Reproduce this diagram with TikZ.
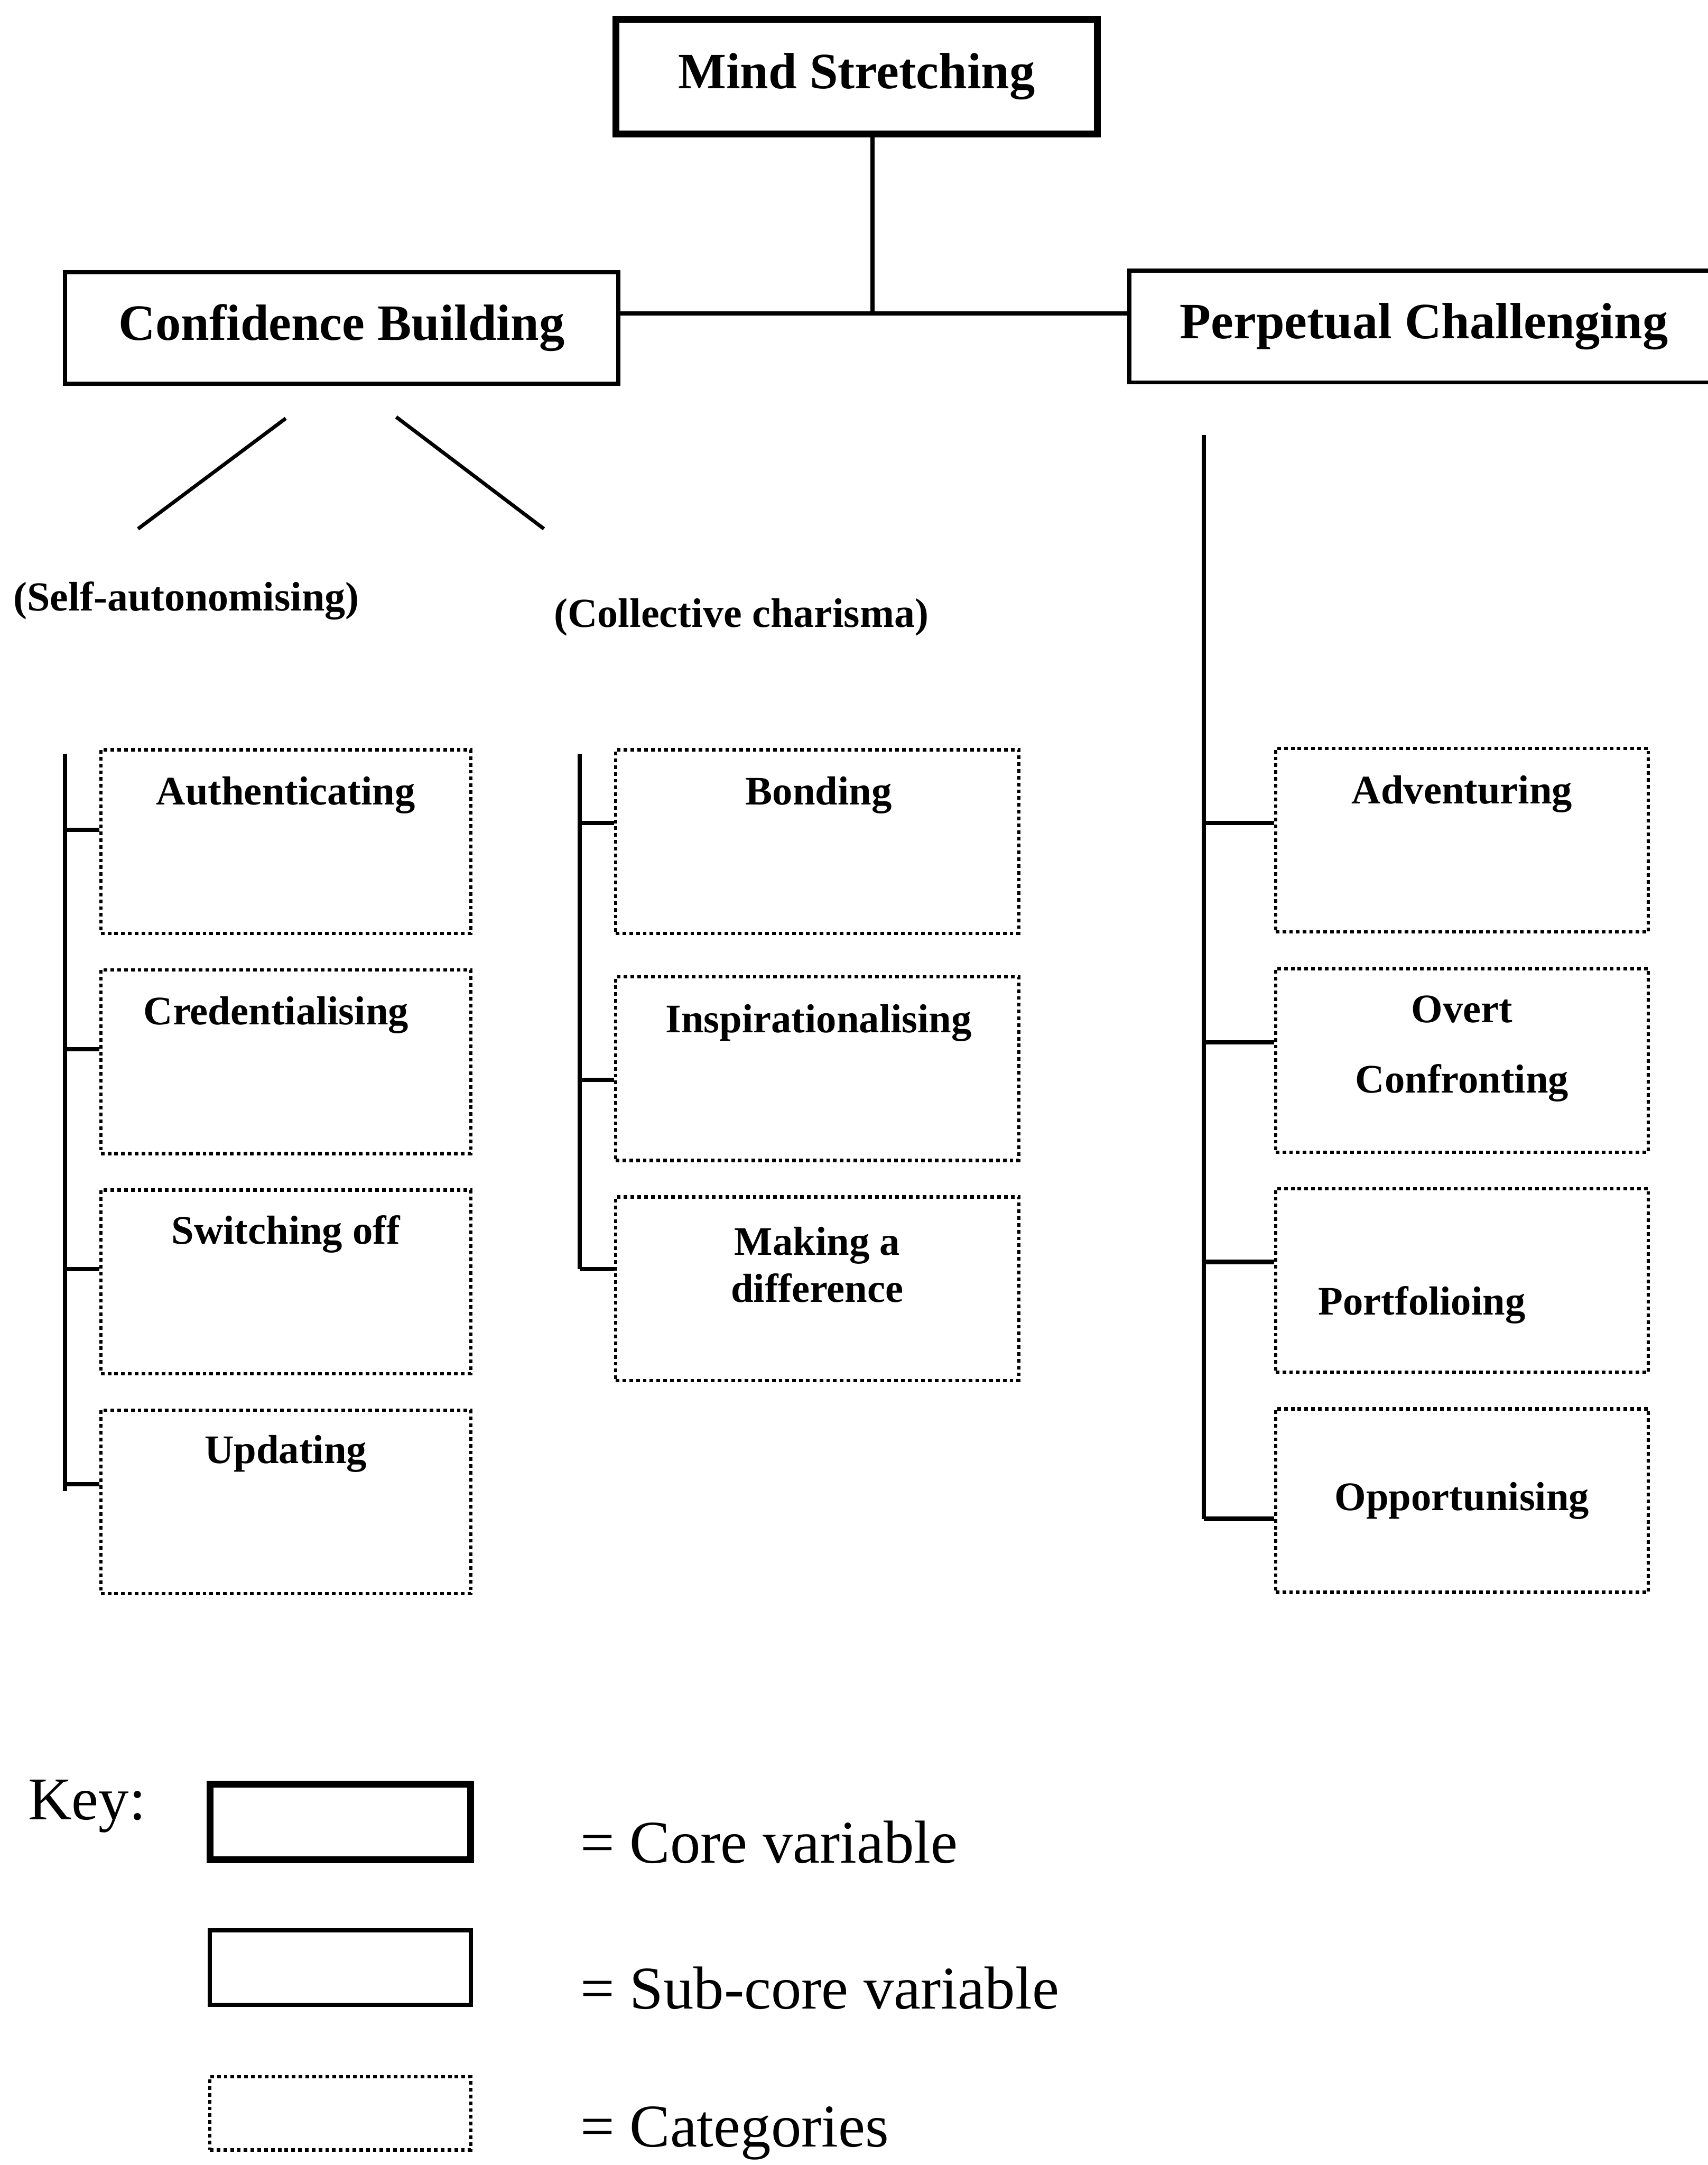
\documentclass[tikz,border=0pt]{standalone}
\usepackage{fontspec}
\setmainfont{Liberation Serif}
\usetikzlibrary{positioning}

\begin{document}
\begin{tikzpicture}[
	x=0.02cm,
	y=-0.02cm,
	node distance=0.48cm,
	core/.style={
		rectangle,
		draw,
		line width=2.8pt,
		minimum width=6.98cm,
		minimum height=1.66cm,
		font=\bfseries\fontsize{21}{25}\selectfont
	},
	subcore/.style={
		rectangle,
		draw,
		line width=1.7pt,
		minimum width=8.02cm,
		minimum height=1.62cm,
		font=\bfseries\fontsize{21}{25}\selectfont
	},
	category/.style={
		rectangle,
		draw,
		line width=1.4pt,
		dash pattern=on 1.5pt off 1.3pt,
		minimum width=5.36cm,
		minimum height=2.66cm
	},
	catlabel/.style={
		align=center,
		font=\bfseries\fontsize{16.7}{19.4}\selectfont
	},
	branch/.style={
		font=\bfseries\fontsize{17}{20}\selectfont
	},
	keytext/.style={
		anchor=west,
		inner xsep=0pt,
		font=\fontsize{25}{30}\selectfont
	},
	link/.style={
		line width=1.8pt
	}
	]
	
	\useasboundingbox (0,0) rectangle (1237,1568);
	
	\node[core] (mind) at (620.5,55.5) {Mind Stretching};
	\node[subcore] (conf) at (247.5,237.5) {Confidence Building};
	\node[subcore, minimum width=8.54cm] (perp) at (1031.5,236.5) {Perpetual Challenging};
	
	\coordinate (junction) at (632,227);
	\draw[link] (mind.south -| junction) -- (junction);
	\draw[link] (conf.east |- junction) -- (perp.west |- junction);
	
	% the two branches of confidence building
	\coordinate (selftop) at (207,303);
	\coordinate (selfend) at (100,383);
	\coordinate (colltop) at (287,302);
	\coordinate (collend) at (394,383);
	\draw[line width=1.5pt] (selftop) -- (selfend);
	\draw[line width=1.5pt] (colltop) -- (collend);
	\node[branch] (selfaut) at (135,435) {(Self-autonomising)};
	\node[branch] (collect) at (537,447) {(Collective charisma)};
	
	% categories
	\node[category] (auth) at (207,609.5) {};
	\node[category] (cred) [below=of auth] {};
	\node[category] (swit) [below=of cred] {};
	\node[category] (upd) [below=of swit] {};
	
	\node[category, minimum width=5.84cm] (bond) at (592,609.5) {};
	\node[category, minimum width=5.84cm] (insp) [below=0.58cm of bond] {};
	\node[category, minimum width=5.84cm] (diff) [below=of insp] {};
	
	\node[category, minimum width=5.4cm] (adv) at (1059,608.5) {};
	\node[category, minimum width=5.4cm] (overt) [below=of adv] {};
	\node[category, minimum width=5.4cm] (port) [below=of overt] {};
	\node[category, minimum width=5.4cm] (opp) [below=of port] {};
	
	\node[catlabel] (authtxt) at (207,576) {Authenticating};
	\node[catlabel] (credtxt) at (200,735) {Credentialising};
	\node[catlabel] (swittxt) at (207,894) {Switching off};
	\node[catlabel] (updtxt) at (207,1053) {Updating};
	\node[catlabel] (bondtxt) at (593,576) {Bonding};
	\node[catlabel] (insptxt) at (593,741) {Inspirationalising};
	\node[catlabel] (difftxt) at (592,916) {Making a\\difference};
	\node[catlabel] (advtxt) at (1059,575) {Adventuring};
	\node[catlabel] (overttxt) at (1059,759.5) {Overt\\[9.6pt]Confronting};
	\node[catlabel] (porttxt) at (1030,945) {Portfolioing};
	\node[catlabel] (opptxt) at (1059,1087) {Opportunising};
	
	% spines
	\coordinate (ltop) at (47,546);
	\coordinate (lbot) at (47,1080);
	\coordinate (mtop) at (420,546);
	\coordinate (mbot) at (420,919);
	\coordinate (rtop) at (872,315);
	\coordinate (rbot) at (872,1100);
	\draw[link] (ltop) -- (lbot);
	\draw[link] (mtop) -- (mbot);
	\draw[link] (rtop) -- (rbot);
	\foreach \b/\y in {auth/601, cred/760, swit/919, upd/1075}{
		\coordinate (t\b) at (47,\y);
		\draw[link] (t\b) -- (\b.west |- t\b);
	}
	\foreach \b/\y in {bond/596, insp/782, diff/919}{
		\coordinate (t\b) at (420,\y);
		\draw[link] (t\b) -- (\b.west |- t\b);
	}
	\foreach \b/\y in {adv/596, overt/755, port/914, opp/1100}{
		\coordinate (t\b) at (872,\y);
		\draw[link] (t\b) -- (\b.west |- t\b);
	}
	
	% key
	\node[font=\fontsize{25}{30}\selectfont] (key) at (63,1308) {Key:};
	\node[core, minimum width=3.78cm, minimum height=1.1cm] (keycore) at (246.5,1319.5) {};
	\node[subcore, minimum width=3.78cm, minimum height=1.08cm] (keysub) at (246.5,1425) {};
	\node[category, minimum width=3.78cm, minimum height=1.06cm] (keycat) at (246.5,1530.5) {};
	\node[keytext] (keycoretxt) at (420,1334) {= Core variable};
	\node[keytext] (keysubtxt) at (420,1440) {= Sub-core variable};
	\node[keytext] (keycattxt) at (420,1545) {= Categories};
	
\end{tikzpicture}
\end{document}
